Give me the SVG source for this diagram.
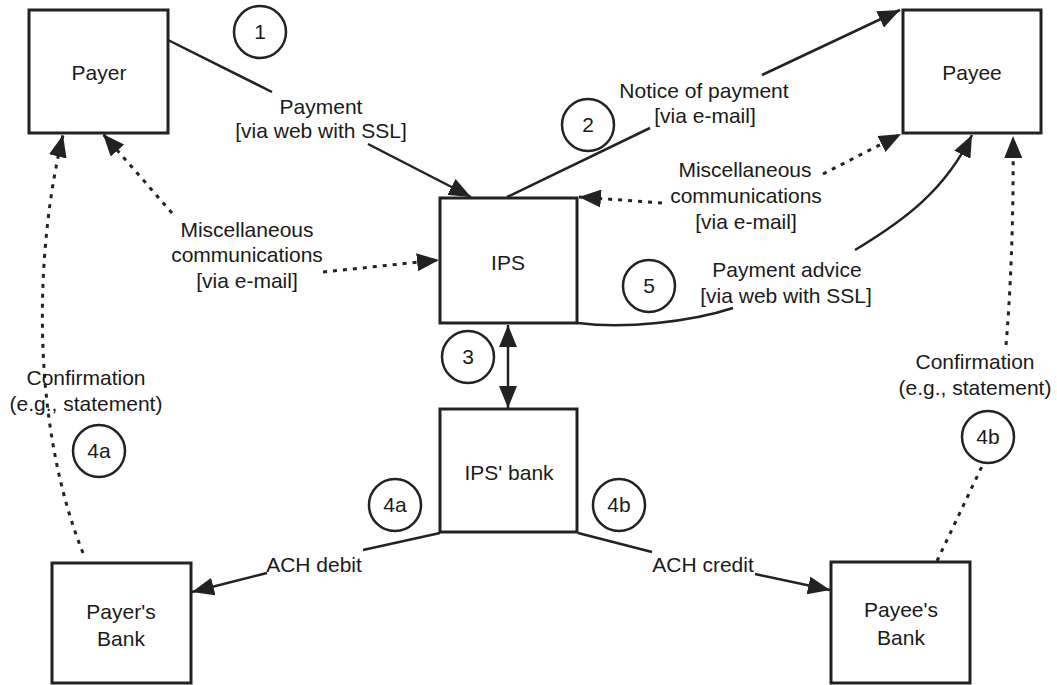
<svg xmlns="http://www.w3.org/2000/svg" width="1057" height="685" viewBox="0 0 1057 685">
<style>
.box{fill:#fff;stroke:#222;stroke-width:3}
.t{font-family:"Liberation Sans",Arial,sans-serif;font-size:21px;fill:#1a1a1a;text-anchor:middle}
.ln{fill:none;stroke:#222;stroke-width:2.5}
.dot{fill:none;stroke:#222;stroke-width:3;stroke-dasharray:4 6}
.num{fill:none;stroke:#222;stroke-width:2.5}
</style>
<defs>
<marker id="ah" markerUnits="userSpaceOnUse" markerWidth="23" markerHeight="18" refX="22" refY="9" orient="auto">
<path d="M0,0 L22,9 L0,18 z" fill="#222"/>
</marker>
<marker id="ahs" markerUnits="userSpaceOnUse" markerWidth="23" markerHeight="18" refX="22" refY="9" orient="auto-start-reverse">
<path d="M0,0 L22,9 L0,18 z" fill="#222"/>
</marker>
</defs>
<rect width="1057" height="685" fill="#fff"/>
<g id="connectors">
<line class="ln" x1="168" y1="40" x2="272" y2="92"/>
<line class="ln" x1="368" y1="144" x2="471" y2="197" marker-end="url(#ah)"/>
<line class="ln" x1="507" y1="197" x2="650" y2="128"/>
<line class="ln" x1="762" y1="75" x2="900" y2="10" marker-end="url(#ah)"/>
<line class="dot" x1="823" y1="174" x2="901" y2="134" marker-end="url(#ah)"/>
<line class="dot" x1="662" y1="203" x2="579" y2="197" marker-end="url(#ah)"/>
<line class="dot" x1="172" y1="213" x2="103" y2="134" marker-end="url(#ah)"/>
<line class="dot" x1="323" y1="272" x2="439" y2="260" marker-end="url(#ah)"/>
<path class="ln" d="M578,323 C625,329 690,322 733,308"/>
<path class="ln" d="M855,250 C905,220 945,190 972,135" marker-end="url(#ah)"/>
<line class="ln" x1="508" y1="325" x2="508" y2="408" marker-start="url(#ahs)" marker-end="url(#ah)"/>
<path class="dot" d="M83,553 C30,420 35,250 63,135" marker-end="url(#ah)"/>
<path class="dot" d="M1006,345 C1010,300 1014,220 1013,136" marker-end="url(#ah)"/>
<line class="dot" x1="937" y1="561" x2="984" y2="462"/>
<line class="ln" x1="440" y1="533" x2="363" y2="550"/>
<line class="ln" x1="267" y1="573" x2="192" y2="592" marker-end="url(#ah)"/>
<line class="ln" x1="578" y1="533" x2="652" y2="552"/>
<line class="ln" x1="755" y1="574" x2="830" y2="590" marker-end="url(#ah)"/>
</g>
<g id="payer"><rect class="box" x="29" y="10" width="139" height="123"/><text class="t" x="99" y="80">Payer</text></g>
<g id="payee"><rect class="box" x="903" y="10" width="138" height="123"/><text class="t" x="972" y="80">Payee</text></g>
<g id="ips"><rect class="box" x="440" y="198" width="137" height="125"/><text class="t" x="508" y="270">IPS</text></g>
<g id="ipsbank"><rect class="box" x="440" y="409" width="137" height="123"/><text class="t" x="509" y="480">IPS' bank</text></g>
<g id="payerbank"><rect class="box" x="52" y="563" width="139" height="120"/><text class="t" x="121" y="619">Payer's</text><text class="t" x="121" y="646">Bank</text></g>
<g id="payeebank"><rect class="box" x="831" y="562" width="139" height="121"/><text class="t" x="901" y="617">Payee's</text><text class="t" x="901" y="645">Bank</text></g>
<g id="labels">
<text class="t" x="321" y="114">Payment</text>
<text class="t" x="321" y="138">[via web with SSL]</text>
<text class="t" x="704" y="98">Notice of payment</text>
<text class="t" x="705" y="123">[via e-mail]</text>
<text class="t" x="745" y="177">Miscellaneous</text>
<text class="t" x="746" y="203">communications</text>
<text class="t" x="746" y="229">[via e-mail]</text>
<text class="t" x="247" y="237">Miscellaneous</text>
<text class="t" x="247" y="262">communications</text>
<text class="t" x="247" y="288">[via e-mail]</text>
<text class="t" x="787" y="277">Payment advice</text>
<text class="t" x="786" y="303">[via web with SSL]</text>
<text class="t" x="86" y="385">Confirmation</text>
<text class="t" x="86" y="411">(e.g., statement)</text>
<text class="t" x="975" y="369">Confirmation</text>
<text class="t" x="975" y="395">(e.g., statement)</text>
<text class="t" x="314" y="572">ACH debit</text>
<text class="t" x="703" y="572">ACH credit</text>
</g>
<g id="step1"><circle class="num" cx="260" cy="32" r="26"/><text class="t" x="260" y="39">1</text></g>
<g id="step2"><circle class="num" cx="588" cy="125" r="26"/><text class="t" x="588" y="132">2</text></g>
<g id="step3"><circle class="num" cx="468" cy="357" r="26"/><text class="t" x="468" y="364">3</text></g>
<g id="step5"><circle class="num" cx="649" cy="286" r="26"/><text class="t" x="649" y="293">5</text></g>
<g id="step4a-left"><circle class="num" cx="99" cy="451" r="26"/><text class="t" x="99" y="458">4a</text></g>
<g id="step4a-mid"><circle class="num" cx="395" cy="505" r="26"/><text class="t" x="395" y="512">4a</text></g>
<g id="step4b-mid"><circle class="num" cx="619" cy="505" r="26"/><text class="t" x="619" y="512">4b</text></g>
<g id="step4b-right"><circle class="num" cx="988" cy="437" r="26"/><text class="t" x="988" y="444">4b</text></g>
</svg>
